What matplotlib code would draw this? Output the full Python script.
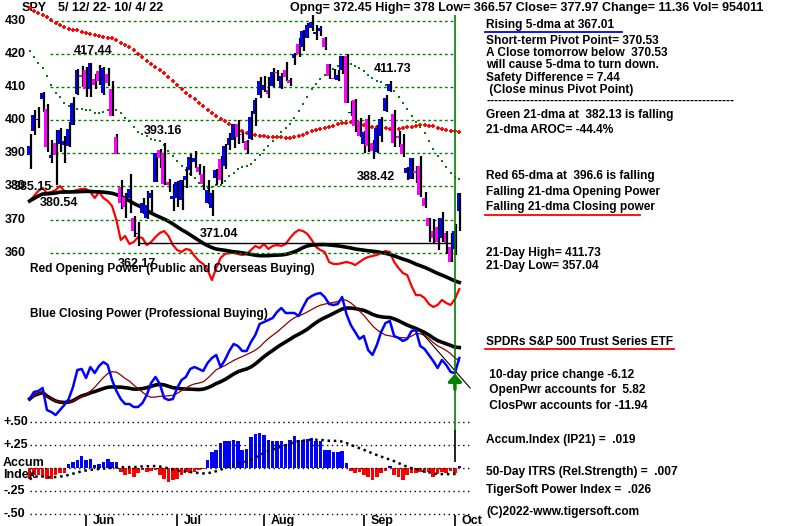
import numpy as np
import pandas as pd
import matplotlib
matplotlib.use("Agg")
import matplotlib.pyplot as plt
from matplotlib import transforms

# SPY daily bars 5/12/22 - 10/4/22
opens = [389.37, 396.71, 399.98, 406.53, 403.50, 388.62, 393.25, 392.83, 392.56, 392.31, 398.67, 407.91, 413.55,
         415.17, 409.42, 412.40, 414.78, 408.10, 413.93, 409.34, 394.88, 379.85, 376.85, 376.51, 370.51, 365.51,
         371.89, 370.62, 376.64, 381.40, 391.05, 390.23, 381.23, 376.24,
         376.56, 375.88, 382.11, 385.12, 387.27, 385.85, 383.65, 375.10, 373.61, 382.55, 388.38, 386.08, 392.47,
         394.16, 398.92, 395.75, 393.84, 394.36, 401.89, 407.58,
         409.15, 409.12, 410.30, 414.37, 409.66, 415.25, 412.22, 418.78, 422.99, 422.03, 424.77, 427.73, 425.99,
         426.86, 424.98, 417.05, 412.90, 412.11, 415.24, 419.39, 402.20, 406.19, 399.92,
         392.89, 400.28, 393.13, 390.37, 395.34, 402.74, 408.78, 401.83, 395.16, 392.96, 384.06, 382.26, 384.80,
         386.11, 376.58, 370.58, 366.41, 367.76, 364.38, 366.03, 361.80,
         361.08, 372.45]
highs = [395.80, 403.18, 403.97, 408.57, 404.80, 394.14, 397.03, 397.73, 395.15, 399.45, 407.04, 415.38, 416.46,
         416.24, 417.44, 414.04, 416.61, 416.22, 415.82, 411.74, 395.78, 381.81, 377.94, 383.90, 371.00, 369.38,
         376.53, 378.72, 378.83, 390.09, 391.36, 393.16, 382.27, 380.66,
         381.70, 381.98, 385.87, 389.83, 390.64, 386.87, 386.16, 381.92, 379.05, 385.25, 389.09, 392.87, 396.26,
         398.84, 400.18, 396.47, 394.06, 402.88, 406.80, 413.03,
         413.41, 413.00, 415.68, 415.09, 414.15, 417.62, 412.75, 420.43, 424.95, 427.21, 429.40, 431.73, 428.70,
         428.61, 425.26, 417.10, 415.42, 415.11, 419.56, 419.96, 405.84, 406.41, 400.78,
         396.78, 401.56, 394.12, 398.59, 401.02, 407.51, 411.73, 403.10, 396.80, 395.96, 385.75, 388.55, 386.12,
         389.31, 378.30, 370.62, 370.21, 370.40, 372.30, 366.41, 365.91,
         368.55, 378.00]
lows = [385.15, 395.61, 397.60, 402.58, 390.55, 387.11, 380.54, 390.38, 386.96, 391.89, 398.45, 407.70, 410.03,
        406.93, 407.04, 409.51, 410.55, 407.61, 410.38, 401.44, 389.75, 373.30, 370.59, 372.12, 364.76, 362.17,
        371.81, 370.18, 371.73, 381.37, 385.45, 380.53, 378.42, 372.56,
        373.80, 372.90, 379.60, 383.27, 385.66, 383.50, 378.99, 374.66, 371.04, 380.54, 380.66, 385.39, 391.03,
        391.63, 392.75, 393.21, 389.95, 394.05, 398.15, 406.77,
        408.40, 406.82, 410.00, 411.86, 409.60, 411.83, 410.22, 416.85, 419.21, 421.03, 424.71, 426.88, 424.12,
        425.50, 421.22, 412.39, 412.36, 411.77, 414.09, 405.25, 401.20, 396.41, 394.83,
        390.04, 390.33, 388.42, 390.21, 393.58, 402.46, 408.46, 391.79, 391.79, 388.78, 382.04, 382.18, 380.99,
        376.80, 373.44, 363.29, 363.03, 360.87, 363.26, 359.55, 357.04,
        359.21, 366.57]
closes = [392.34, 401.72, 400.09, 408.32, 391.86, 389.46, 389.63, 396.92, 393.89, 397.37, 405.31, 415.26, 412.93,
          409.59, 417.39, 410.54, 411.79, 415.74, 411.22, 401.44, 389.80, 375.00, 373.87, 379.20, 366.65, 365.86,
          375.07, 374.39, 378.06, 390.08, 388.59, 380.65, 380.34, 377.25,
          381.24, 381.96, 383.25, 388.99, 388.67, 384.23, 380.83, 378.83, 377.91, 385.13, 381.95, 392.27, 394.77,
          398.79, 395.09, 395.57, 390.89, 401.04, 406.07, 411.99,
          410.77, 408.06, 414.45, 414.17, 413.47, 412.99, 411.35, 419.99, 419.99, 427.10, 428.86, 429.70, 426.65,
          427.89, 422.14, 413.35, 412.35, 413.67, 419.51, 405.31, 402.63, 398.21, 395.18,
          396.42, 392.24, 390.76, 397.78, 400.38, 406.60, 410.97, 393.10, 394.60, 389.90, 385.56, 388.55, 384.09,
          377.39, 374.22, 367.95, 364.31, 363.38, 370.53, 362.79, 357.18,
          366.61, 377.97]
# closes 2/9/22 - 5/11/22, needed for the 21- and 65-day averages
prior_closes = [457.54, 449.32, 440.46, 439.02, 446.10, 446.60, 437.06, 434.23, 429.57, 421.95, 428.30, 437.75,
                436.63, 429.98, 437.89, 435.71, 432.17, 419.43, 416.25, 427.41, 425.48, 420.07, 417.00, 426.17,
                435.62, 441.07, 444.52, 444.39, 449.59, 443.80, 450.49, 452.69, 455.91, 461.55, 458.70, 451.64,
                452.92, 456.80, 451.03, 446.52, 448.77, 447.57, 439.92, 438.29, 443.31, 437.79, 437.97, 445.04,
                444.71, 438.06, 426.04, 428.51, 416.10, 417.27, 427.81, 412.00, 414.48, 416.38, 429.06, 413.81,
                411.34, 398.17, 399.09, 392.75]

# TigerSoft indicators (arbitrary units)
open_power = [99, 104, 109, 112, 107, 108, 110, 114, 109, 108,
              109, 110, 111, 111, 108, 102, 108, 102, 99, 94,
              80, 60, 64, 56, 58, 63, 62, 55, 58, 63,
              67, 69, 64, 55, 50, 48, 51, 50, 44, 39,
              36, 30, 20, 32, 42, 46, 47, 47, 46, 45,
              46, 50, 54, 52, 56, 51, 54, 55, 54, 56,
              62, 67, 70, 69, 66, 60, 53, 50, 48, 38,
              36, 36, 37, 38, 37, 35, 38, 41, 43, 44,
              45, 47, 49, 48, 38, 32, 27, 25, 14, 5,
              5, 2, -4, -7, -5, 0, -3, -5, 1, 11]
close_power = [51, 58, 59, 62, 40, 38, 35, 40, 45, 51,
               63, 80, 81, 72, 83, 77, 84, 88, 85, 70,
               59, 51, 46, 46, 43, 43, 47, 55, 67, 73,
               66, 52, 50, 51, 62, 70, 73, 81, 83, 81,
               79, 87, 92, 95, 83, 90, 99, 106, 104, 99,
               99, 108, 115, 126, 128, 130, 132, 138, 142, 137,
               137, 137, 134, 143, 151, 154, 156, 157, 153, 146,
               145, 146, 153, 136, 125, 118, 111, 114, 100, 95,
               105, 118, 127, 129, 114, 112, 109, 111, 119, 120,
               104, 101, 95, 89, 82, 90, 85, 78, 77, 92]
accum_index = [-0.12, -0.07, -0.07, -0.10, -0.12, -0.12, -0.07, -0.05, -0.05, 0.05,
               0.07, 0.09, 0.13, 0.09, 0.10, 0.04, 0.05, 0.07, 0.10, 0.07,
               0.07, -0.04, -0.07, -0.06, -0.10, -0.05, -0.02, -0.04, -0.03, -0.02,
               -0.07, -0.12, -0.15, -0.13, -0.12, -0.07, -0.04, -0.05, -0.04, -0.02,
               -0.01, 0.09, 0.18, 0.20, 0.27, 0.29, 0.30, 0.31, 0.30, 0.20,
               0.21, 0.34, 0.375, 0.385, 0.36, 0.31, 0.29, 0.30, 0.30, 0.26,
               0.31, 0.35, 0.31, 0.31, 0.32, 0.33, 0.30, 0.29, 0.20, 0.20,
               0.18, 0.18, 0.19, 0.06, -0.03, -0.05, -0.04, -0.07, -0.10, -0.13,
               -0.10, -0.05, -0.03, 0.02, -0.07, -0.10, -0.13, -0.07, -0.05, -0.05,
               -0.04, -0.05, -0.04, -0.09, -0.06, -0.04, -0.05, -0.03, -0.05, 0.019]

price_ticks = [430, 420, 410, 400, 390, 380, 370, 360]
acc_ticks = [0.5, 0.25, 0.0, -0.25, -0.5]
acc_labels = ["+.50", "+.25", "", "-.25", "-.50"]
# (bar index, price, label, above?)
price_notes = [(14, 417.44, "417.44", True), (30, 393.16, "393.16", True), (6, 380.54, "380.54", False),
               (24, 362.17, "362.17", False), (43, 371.04, "371.04", False), (79, 388.42, "388.42", False),
               (83, 411.73, "411.73", True), (0, 385.15, "385.15", False)]
support = 362.8

holidays = pd.to_datetime(["2022-05-30", "2022-06-20", "2022-07-04", "2022-09-05"])
days = pd.bdate_range("2022-05-12", "2022-10-04")
days = days[~days.isin(holidays)]
idx = np.arange(len(days))

o = np.array(opens); h = np.array(highs); l = np.array(lows); c = np.array(closes)
allc = pd.Series(prior_closes + closes)
ma21 = allc.rolling(21).mean().values[-len(c):]
ma65 = allc.rolling(65).mean().values[-len(c):]
op = pd.Series(open_power, dtype=float)
cp = pd.Series(close_power, dtype=float)
ai = pd.Series(accum_index)

plt.rcParams["font.family"] = ["Liberation Sans", "DejaVu Sans"]
plt.rcParams["font.weight"] = "bold"
plt.rcParams["font.size"] = 8.6

W, H = 800, 526
fig = plt.figure(figsize=(W / 100, H / 100), dpi=100)
fig.patch.set_facecolor("white")
XLIM = (-6.82, 177.5)


def layer(ylim, z):
    a = fig.add_axes([0, 0, 1, 1], zorder=z)
    a.set_xlim(*XLIM)
    a.set_ylim(*ylim)
    a.set_axis_off()
    a.patch.set_alpha(0)
    return a


def ftext(x, y, s, **kw):
    # place text by pixel position on the 800x526 canvas
    fig.text(x / W, 1 - y / H, s, va="center", ha="left", **kw)


ax_acc = layer((-0.626, 5.073), 1)
ax_cp = layer((-76, 450), 2)
ax_op = layer((-226, 300), 3)
ax = layer((277.43, 436.34), 4)

GREEN = "#008000"

# ---- price panel
ax.hlines(price_ticks, 4.7, 98, colors=GREEN, linestyles=(0, (2, 2)), lw=1, zorder=1)
lab = transforms.blended_transform_factory(fig.transFigure, ax.transData)
for p in price_ticks:
    ax.text(5 / W, p, str(p), transform=lab, va="center", ha="left", fontsize=9)

ax.plot(idx, ma65, ls="none", marker="+", ms=3.3, mew=1.3, color="red", zorder=2)
ax.plot(idx, ma21, ls="none", marker="s", ms=1.7, mew=0, color=GREEN, zorder=2)
ax.hlines(support, 25, 98, colors="black", lw=1, zorder=2)

up = c >= o
ax.vlines(idx + 0.25, l, h, colors="black", lw=1.6, zorder=3)
body = np.maximum(np.abs(c - o), 0.35)
bot = np.minimum(o, c)
ax.bar(idx[up] - 0.3, body[up], bottom=bot[up], width=0.66, color="blue", lw=0, zorder=4)
ax.bar(idx[~up] - 0.3, body[~up], bottom=bot[~up], width=0.66, color="magenta", lw=0, zorder=4)

for i, p, s, above in price_notes:
    ax.annotate(s, (i, p), xytext=(3, 12 if above else -18), textcoords="offset pixels",
                ha="center", va="center", fontsize=9, zorder=5)

# vertical marker at the last month boundary
ax.vlines(98, 306.4, 431.8, colors=GREEN, lw=1.2, zorder=6)
ax.vlines(98, 296.7, 306.4, colors="black", lw=1.2, zorder=6)

# ---- opening power
ax_op.plot(idx, op, color="red", lw=1.6)
ax_op.plot(idx, op.rolling(21, min_periods=1).mean(), color="black", lw=2.6)

# ---- closing power
ax_cp.plot(idx, cp.rolling(21, min_periods=1).mean(), color="black", lw=2.6)
ax_cp.plot(idx, cp.rolling(10, min_periods=1).mean(), color="#8b0000", lw=0.9)
ax_cp.plot(idx, cp, color="blue", lw=1.8)
ax_cp.plot([90.4, 101.5], [117, 62], color="black", lw=0.8)
ax_cp.annotate("", xy=(98, 79), xytext=(98, 58),
               arrowprops=dict(arrowstyle="-|>,head_length=0.5,head_width=0.45", color=GREEN, lw=2.5))

# ---- accumulation index
ax_acc.hlines(acc_ticks, 0, 102, colors="black", linestyles=(0, (1, 2.5)), lw=1)
pos = ai.values >= 0
ax_acc.bar(idx[pos], ai.values[pos], width=0.82, color="blue", lw=0)
ax_acc.bar(idx[~pos], ai.values[~pos], width=0.82, color="red", lw=0)
ax_acc.plot(idx, ai.rolling(21, min_periods=1).mean(), color="black", lw=1.8, ls=(0, (1, 1.5)))
alab = transforms.blended_transform_factory(fig.transFigure, ax_acc.transData)
for v, s in zip(acc_ticks, acc_labels):
    ax_acc.text(3 / W, v, s, transform=alab, va="center", ha="left", fontsize=9)

# month ticks
for m in ["Jun", "Jul", "Aug", "Sep", "Oct"]:
    first = int(np.argmax(days.strftime("%b") == m))
    ax_acc.vlines(first, -0.626, -0.51, colors="black", lw=1.2)
    ax_acc.text(first + 1.6, -0.572, m, va="center", ha="left", fontsize=9)

# ---- texts
ftext(3, 463, "Accum", fontsize=9)
ftext(3, 475, "Index", fontsize=9)
ftext(22, 8, "SPY", fontsize=9)
ftext(58, 8, "5/ 12/ 22- 10/ 4/ 22", fontsize=9)
ftext(290, 8, "Opng= 372.45 High= 378 Low= 366.57 Close= 377.97 Change= 11.36 Vol= 954011", fontsize=9)
ftext(30, 269, "Red Opening Power (Public and Overseas Buying)")
ftext(30, 314, "Blue Closing Power (Professional Buying)")

side = [("Rising 5-dma at 367.01", 25), ("Short-term Pivot Point= 370.53", 41),
        ("A Close tomorrow below  370.53", 53), ("will cause 5-dma to turn down.", 65),
        ("Safety Difference = 7.44", 78), (" (Close minus Pivot Point)", 90),
        ("-" * 62, 101), ("Green 21-dma at  382.13 is falling", 115), ("21-dma AROC= -44.4%", 130),
        ("Red 65-dma at  396.6 is falling", 176), ("Falling 21-dma Opening Power", 192),
        ("Falling 21-dma Closing power", 207), ("21-Day High= 411.73", 253), ("21-Day Low= 357.04", 266),
        ("SPDRs S&P 500 Trust Series ETF", 342), (" 10-day price change -6.12", 375),
        (" OpenPwr accounts for  5.82", 390), (" ClosPwr accounts for -11.94", 406),
        ("Accum.Index (IP21) =  .019", 440), ("50-Day ITRS (Rel.Strength) =  .007", 472),
        ("TigerSoft Power Index =  .026", 490), ("(C)2022-www.tigersoft.com", 512)]
for s, y in side:
    ftext(486, y, s)

for x0, x1, y, col in [(485, 622, 32, "blue"), (485, 640, 215, "red"), (485, 674, 349, "red")]:
    fig.add_artist(plt.Line2D([x0 / W, x1 / W], [1 - y / H, 1 - y / H], color=col, lw=1.3))

fig.savefig("out.png", dpi=100)
